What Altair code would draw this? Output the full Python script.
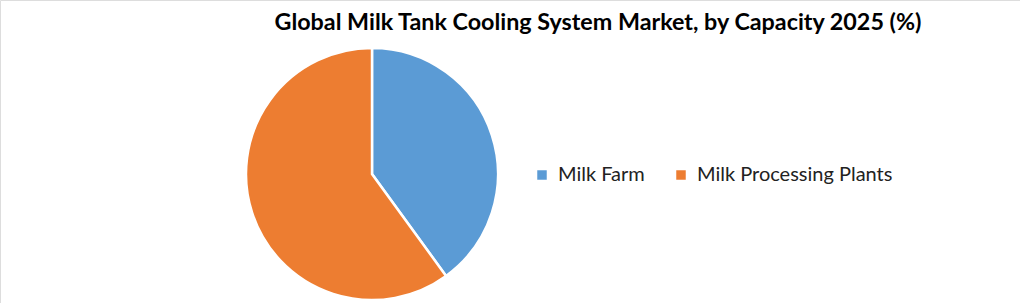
import altair as alt
import pandas as pd

categories = ["Milk Farm", "Milk Processing Plants"]
shares = [40, 60]
colors = ["#5B9BD5", "#ED7D31"]
title_text = "Global Milk Tank Cooling System Market, by Capacity 2025 (%)"

df = pd.DataFrame({"Capacity": categories, "Share": shares, "order": [0, 1]})

pie = alt.Chart(df).mark_arc(outerRadius=126, stroke="white", strokeWidth=2.5).encode(
    theta=alt.Theta("Share:Q", stack=True),
    order=alt.Order("order:Q"),
    color=alt.Color(
        "Capacity:N",
        scale=alt.Scale(domain=categories, range=colors),
        legend=alt.Legend(
            title=None,
            orient="none",
            legendX=532,
            legendY=165,
            direction="horizontal",
            symbolType="square",
            symbolSize=90,
            symbolStrokeWidth=0,
            labelFont="Lato",
            labelFontSize=20,
            labelColor="#222222",
            labelOffset=6,
            columnPadding=26,
            labelLimit=400,
        ),
    ),
    x=alt.value(372),
    y=alt.value(174),
)

title = alt.Chart(pd.DataFrame({"t": [title_text]})).mark_text(
    font="Lato", fontSize=23.3, fontWeight="bold", color="#000000", align="center", baseline="alphabetic"
).encode(text="t:N", x=alt.value(598), y=alt.value(30))

chart = alt.layer(pie, title).properties(
    width=1020, height=303, autosize=alt.AutoSizeParams(type="none"), padding=0
).configure_view(stroke=None).configure(background="white")

chart.save("out.html", embed_options={"renderer": "svg", "actions": False})
